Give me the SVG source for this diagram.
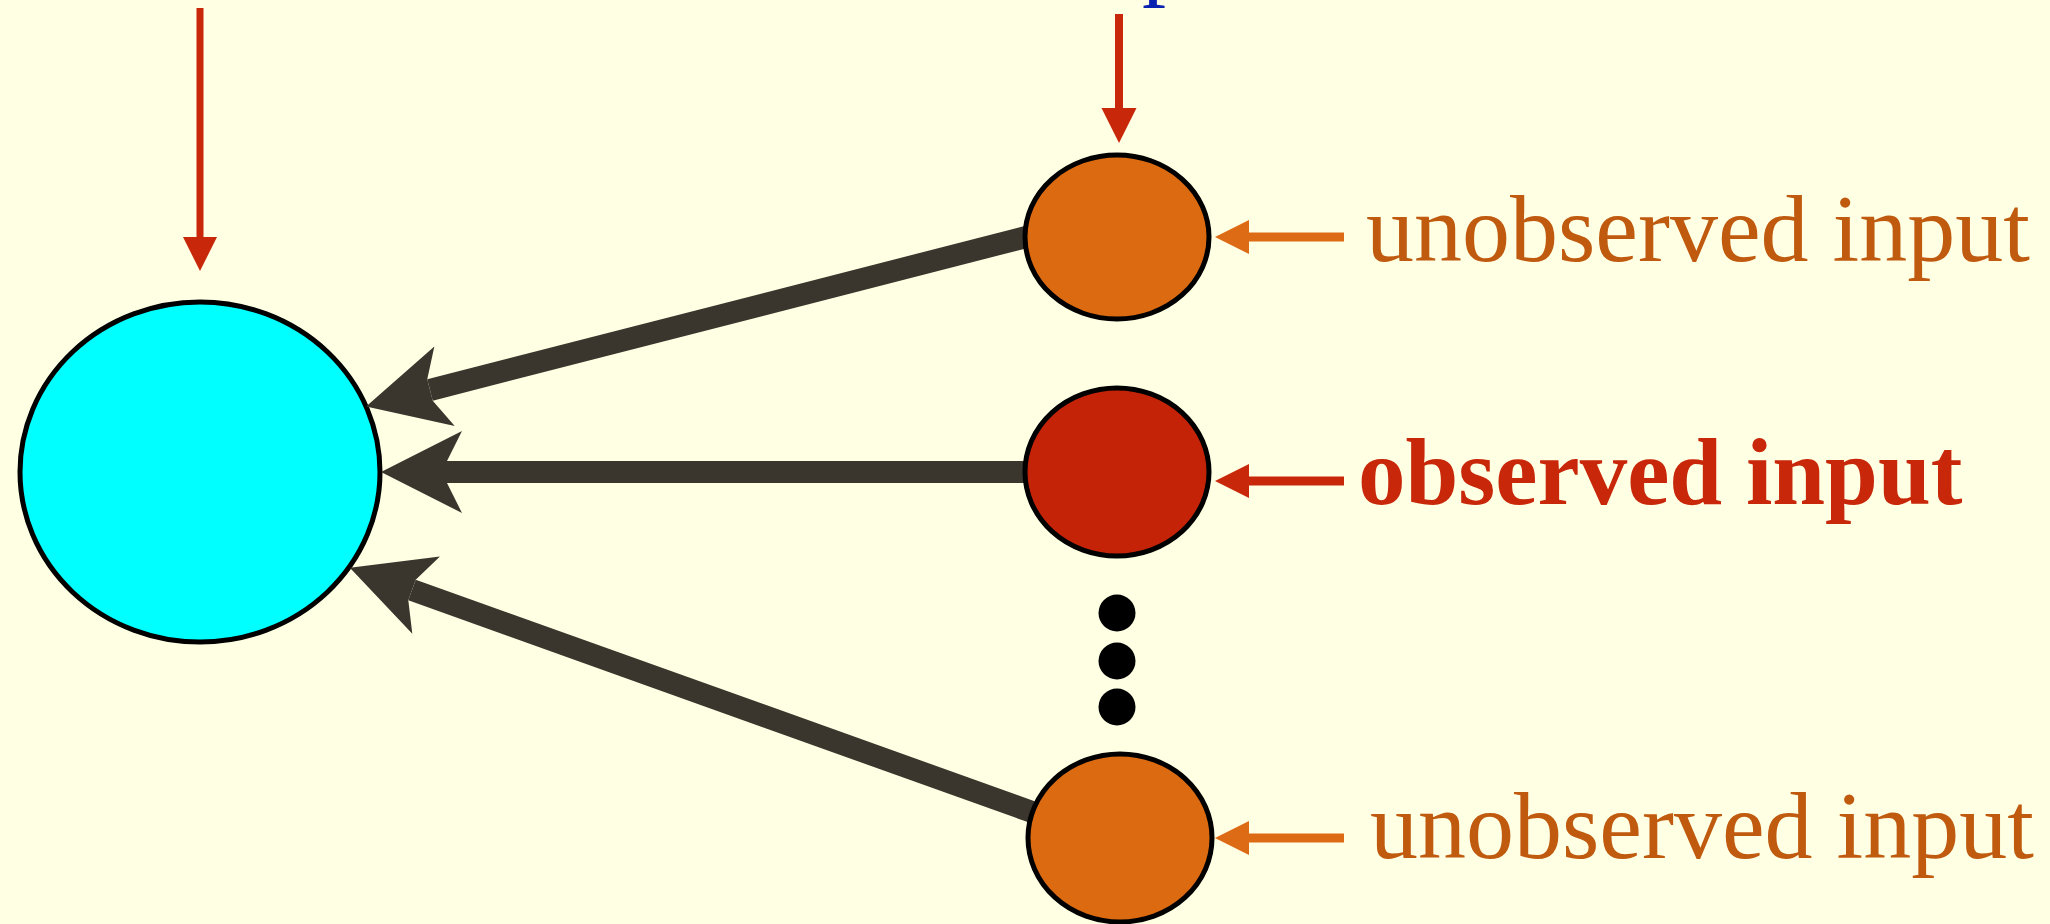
<svg xmlns="http://www.w3.org/2000/svg" width="2050" height="924" viewBox="0 0 2050 924">
<style>
.node{stroke:#000;stroke-width:5}
.shaft{stroke:#3A362E;stroke-width:22;fill:none}
.lbl{font-family:"Liberation Serif","Times New Roman",serif;font-size:96px}
</style>
<defs>
<marker id="stealth" markerUnits="userSpaceOnUse" markerWidth="200" markerHeight="200" refX="0" refY="0" orient="auto" overflow="visible" viewBox="-100 -100 200 200">
<path d="M66,0 L-15,-41 L0,-11 L0,11 L-15,41 Z" fill="#3A362E"/>
</marker>
</defs>
<rect x="0" y="0" width="2050" height="924" fill="#FFFFE3"/>
<text class="lbl" x="1142" y="-12" fill="#0A22B0">p</text>
<g id="target">
<ellipse class="node" cx="200" cy="472" rx="180" ry="170" fill="#00FFFF"/>
</g>
<g id="connectors">
<path class="shaft" d="M1030,236 L430,390" marker-end="url(#stealth)"/>
<path class="shaft" d="M1030,472 L447,472" marker-end="url(#stealth)"/>
<path class="shaft" d="M1035,813 L412,590" marker-end="url(#stealth)"/>
<g id="input-arrow-target">
<rect x="196.5" y="8" width="7" height="230" fill="#C8270A"/>
<polygon points="183,237 217,237 200,271" fill="#C8270A"/>
</g>
<g id="input-arrow-top">
<rect x="1115" y="14" width="8" height="95" fill="#C8270A"/>
<polygon points="1101.5,108 1136.5,108 1119,143" fill="#C8270A"/>
</g>
<g id="side-arrow-1">
<rect x="1248" y="232.5" width="96" height="9" fill="#DD6A14"/>
<polygon points="1249,220 1249,254 1215,237" fill="#DD6A14"/>
</g>
<g id="side-arrow-2">
<rect x="1248" y="476.5" width="96" height="9" fill="#C8270A"/>
<polygon points="1249,464 1249,498 1215,481" fill="#C8270A"/>
</g>
<g id="side-arrow-3">
<rect x="1248" y="833.5" width="96" height="9" fill="#DD6A14"/>
<polygon points="1249,821 1249,855 1215,838" fill="#DD6A14"/>
</g>
</g>
<g id="node-unobserved-1">
<ellipse class="node" cx="1117" cy="237" rx="92" ry="82" fill="#DC6A10"/>
<text class="lbl" x="1366" y="261" fill="#BF5A0E">unobserved input</text>
</g>
<g id="node-observed">
<ellipse class="node" cx="1117" cy="472" rx="92" ry="84" fill="#C42308"/>
<text class="lbl" x="1358" y="504" fill="#C8270A" font-weight="bold" style="font-size:95px">observed input</text>
</g>
<g id="dots">
<circle cx="1117" cy="613" r="18.5" fill="#000"/>
<circle cx="1117" cy="661" r="18.5" fill="#000"/>
<circle cx="1117" cy="707" r="18.5" fill="#000"/>
</g>
<g id="node-unobserved-2">
<ellipse class="node" cx="1120" cy="838" rx="92" ry="84" fill="#DC6A10"/>
<text class="lbl" x="1370" y="858" fill="#BF5A0E">unobserved input</text>
</g>
</svg>
